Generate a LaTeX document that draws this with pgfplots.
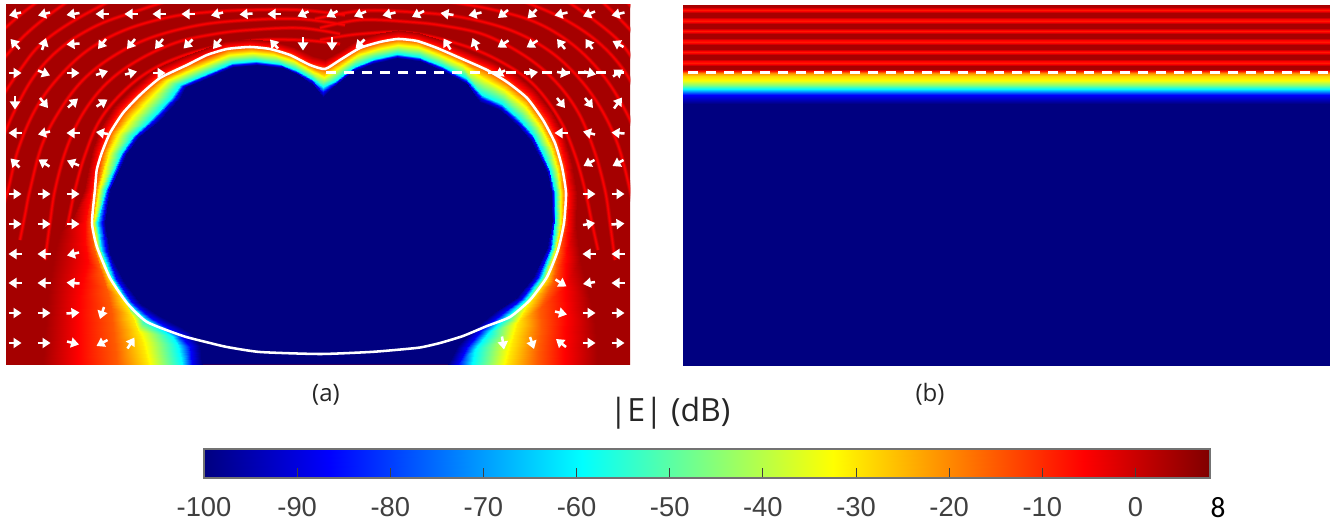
\documentclass[border=0pt]{standalone}
\usepackage{fontspec}
\setmainfont{Liberation Sans}
\newfontfamily\labfont{Open Sans}
\newfontfamily\carl{Carlito}
\usepackage{pgfplots}
\usepackage{pgfplotstable}
\pgfplotsset{compat=1.18}
\usetikzlibrary{arrows.meta}
\pgfplotsset{colormap={myjet}{rgb255(0pt)=(0,0,128); rgb255(1pt)=(0,0,255); rgb255(3pt)=(0,255,255); rgb255(5pt)=(255,255,0); rgb255(7pt)=(255,0,0); rgb255(8pt)=(128,0,0)}}
\definecolor{bgred}{RGB}{165,0,0}
\definecolor{navyb}{RGB}{0,0,128}
\definecolor{rip0}{RGB}{185,0,0}
\definecolor{rip1}{RGB}{205,0,0}
\definecolor{rip2}{RGB}{228,0,0}
\definecolor{rip3}{RGB}{250,0,0}
\pgfplotstableread{
x y
62 250
68 223
75 190
85 155
100 120
125 90
155 68
195 52
250 41
300 40
340 44
nan nan
45 260
50 223
55 190
66 150
82 115
105 85
135 62
175 43
215 34
250 30
300 28
340 34
nan nan
20 240
25 215
30 190
42 145
60 110
83 80
112 57
150 38
200 25
250 20
300 19
345 25
nan nan
0 215
8 190
18 150
35 110
58 78
88 50
125 30
170 17
210 12
250 10
300 10
345 15
nan nan
0 145
15 110
35 75
62 47
98 25
140 10
170 0
nan nan
0 100
20 70
40 45
70 23
112 0
nan nan
0 63
22 38
45 18
70 0
nan nan
0 33
20 15
40 0
nan nan
598 250
592 223
585 190
575 155
560 120
535 86
505 64
465 46
410 33
360 34
320 40
nan nan
615 260
610 223
605 190
594 150
578 112
555 81
525 56
485 35
445 26
410 22
360 20
320 28
nan nan
640 240
635 215
630 190
618 145
600 107
577 76
548 50
510 30
460 17
410 12
360 11
315 19
nan nan
650 190
642 150
625 110
602 74
572 44
535 22
490 9
450 2
nan nan
654 135
645 110
625 72
598 42
562 18
520 0
nan nan
640 70
620 42
590 17
565 0
nan nan
638 38
615 14
600 0
nan nan
640 15
625 0
}\ripples
\pgfplotstableread{
x y u v
15 14 -12 3
44 14 -12 3
73 14 -13 2
102 14 -13 0
131 14 -13 0
159 14 -13 0
188 14 -13 0
217 14 -12 3
246 14 -13 1
274 14 -13 0
303 14 -11 5
332 14 -11 6
360 14 -12 5
389 14 -13 3
418 14 -12 6
447 14 -13 -2
475 14 -13 3
503 14 -10 8
532 14 -9 9
561 14 -13 3
589 14 -12 5
618 14 -13 3
15 44 -9 -10
44 44 4 -12
73 44 -13 1
102 44 -8 10
131 44 -8 10
159 44 -8 10
188 44 -9 9
217 44 -8 10
274 44 -8 -9
303 44 0 13
332 44 0 13
360 44 -9 9
447 44 -7 -11
475 44 -5 -12
503 44 -11 7
532 44 -11 7
561 44 -8 -10
589 44 -7 -10
618 44 -11 -6
15 73 13 0
44 73 12 5
73 73 13 0
102 73 12 -4
131 73 12 -3
159 73 13 0
500 73 -10 5
532 73 12 -2
563 73 12 2
590 73 12 3
618 73 10 -7
15 103 0 13
44 103 8 10
73 103 10 -9
102 103 11 -7
561 103 8 10
589 103 8 10
618 103 8 -11
15 133 -13 0
44 133 -12 3
73 133 -13 0
102 133 -12 -2
561 133 -13 0
589 133 -12 -3
618 133 -13 -1
15 163 -9 -9
44 163 -11 -7
73 163 -12 -5
589 163 -11 6
618 163 -11 6
15 194 13 0
44 194 13 0
73 194 13 0
589 194 13 0
618 194 13 0
15 224 13 0
44 224 13 0
73 224 13 0
589 224 12 -2
618 224 13 -1
15 254 -13 0
44 254 -13 0
73 254 -12 3
589 254 -13 0
618 254 -13 0
15 283 -13 0
44 283 -13 0
73 283 -13 -1
561 283 11 7
589 283 -12 2
618 283 -13 0
15 313 13 0
44 313 13 0
73 313 13 -1
102 313 -4 12
561 313 12 3
589 313 13 0
618 313 13 0
15 343 13 0
44 343 13 0
73 343 12 3
102 343 -11 6
131 343 7 -11
503 343 2 13
532 343 4 12
561 343 -10 -8
589 343 13 0
618 343 13 0
}\arrowsdata
\begin{document}
\begin{tikzpicture}
\useasboundingbox (0,0) rectangle (997.5pt,393pt);
% panel (a)
\begin{axis}[at={(4.5pt,120pt)},anchor=south west,scale only axis,width=468pt,height=269.25pt,
  xmin=6,xmax=630,ymin=5,ymax=364,y dir=reverse,axis lines=none,ticks=none,
  colormap name=myjet,point meta min=-100,point meta max=8,unbounded coords=jump]
\addplot[fill=bgred,draw=none] coordinates {(0,0)(640,0)(640,370)(0,370)(0,0)};
\addplot[rip0,line width=3.4pt,smooth,tension=0.6] table {\ripples};
\addplot[rip1,line width=2.5pt,smooth,tension=0.6] table {\ripples};
\addplot[rip2,line width=1.7pt,smooth,tension=0.6] table {\ripples};
\addplot[rip3,line width=0.9pt,smooth,tension=0.6] table {\ripples};
\addplot[fill=navyb,draw=navyb,line width=1pt] coordinates {
(202,364)(200,345)(190,332)(160,316)(140,303)(123,280)(110,253)(105,223)(110,190)(127,153)(139,137)(160,120)(180,98)(186,87)(203,80)(233,67)(257,65)(283,68)(297,74)(312,84)(323,97)(333,87)(352,72)(372,64)(397,58)(420,61)(443,71)(467,84)(480,102)(500,110)(517,125)(530,140)(538,155)(547,173)(551,193)(552,220)(547,247)(533,277)(517,297)(493,313)(475,328)(458,345)(448,364)(202,364)};
\addplot[surf,shader=interp,mesh/cols=7,point meta=explicit] coordinates {
(202,364)[-100] (192,364)[-87] (182,364)[-60] (147,364)[-30] (117,364)[-15] (80,364)[-6] (43,364)[4]
(200,345)[-100] (190,346)[-87] (178,345)[-60] (141,340)[-30] (114,338)[-15] (80,335)[-6] (45,332)[4]
(190,332)[-100] (180,335)[-87] (172,336)[-60] (138,332)[-30] (113,326)[-15] (80,318)[-6] (47,310)[4]
(160,316)[-100] (150,317)[-87] (145,319)[-60] (132,316)[-30] (111,308)[-15] (81,298)[-6] (49,288)[4]
(140,303)[-100] (132,302)[-87] (127,302)[-60] (123,299)[-30] (107,290)[-15] (84,279)[-6] (52,268)[4]
(123,280)[-100] (116,278)[-87] (112,278)[-60] (108,276)[-30] (101,272)[-15] (88,262)[-6] (56,248)[4]
(110,253)[-100] (106,250)[-87] (101,250)[-60] (97,248)[-30] (93,246)[-15] (85,242)[-6] (60,232)[4]
(105,223)[-100] (102,223)[-87] (97,223)[-60] (93,223)[-30] (91,223)[-15] (85,222)[-6] (72,220)[4]
(110,190)[-100] (108,190)[-87] (105,190)[-60] (98,190)[-30] (95,190)[-15] (91,190)[-6] (84,190)[4]
(127,153)[-100] (124,153)[-87] (121,153)[-60] (108,153)[-30] (102,153)[-15] (98,152)[-6] (92,150)[4]
(139,137)[-100] (135.5,136.5)[-87] (133,136)[-60] (117,134)[-30] (110,133)[-15] (106,131)[-6] (100,128)[4]
(160,120)[-100] (155.5,119)[-87] (152,118.5)[-60] (132,115)[-30] (123,113)[-15] (119,110)[-6] (114,106)[4]
(180,98)[-100] (175,98)[-87] (171,98)[-60] (150,96)[-30] (140,95)[-15] (137,92)[-6] (132,88)[4]
(186,87)[-100] (183,86)[-87] (180,85)[-60] (166,80)[-30] (160,78)[-15] (157,75)[-6] (153,70)[4]
(203,80)[-100] (201,78)[-87] (199,77)[-60] (191,69)[-30] (187,65)[-15] (185,62)[-6] (182,57)[4]
(233,67)[-100] (232,65)[-87] (232,63)[-60] (228.5,54)[-30] (227,49)[-15] (226,46)[-6] (225,41)[4]
(257,65)[-100] (256,63)[-87] (255.5,61)[-60] (252,52)[-30] (250,47)[-15] (250,44)[-6] (250,39)[4]
(283,68)[-100] (281.5,66)[-87] (280,64)[-60] (274,54)[-30] (271,49)[-15] (272,46)[-6] (273,41)[4]
(297,74)[-100] (296,72)[-87] (295.5,70)[-60] (292.5,60)[-30] (291,55)[-15] (292,52)[-6] (294,47)[4]
(312,84)[-100] (312,81)[-87] (311.5,79)[-60] (310.5,70)[-30] (310,65)[-15] (311,62)[-6] (313,56)[4]
(323,97)[-100] (323,92)[-87] (323,87)[-60] (324,76)[-30] (325,69)[-15] (325,65)[-6] (325,59)[4]
(333,87)[-100] (334,84)[-87] (335,81)[-60] (338,67)[-30] (340,60)[-15] (339,57)[-6] (338,52)[4]
(352,72)[-100] (353,69)[-87] (354,67)[-60] (358,54)[-30] (360,48)[-15] (359,45)[-6] (358,39)[4]
(372,64)[-100] (373,61)[-87] (374,59)[-60] (378,48)[-30] (380,42)[-15] (380,39)[-6] (380,33)[4]
(397,58)[-100] (397,56)[-87] (397,54)[-60] (398,44)[-30] (398,39)[-15] (398,36)[-6] (398,30)[4]
(420,61)[-100] (420,59)[-87] (419,57)[-60] (418,46)[-30] (417,41)[-15] (418,38)[-6] (419,33)[4]
(443,71)[-100] (442,68)[-87] (442,66)[-60] (438.5,54)[-30] (437,48)[-15] (439,45)[-6] (441,40)[4]
(467,84)[-100] (466,81)[-87] (465.5,78)[-60] (462,64.5)[-30] (460,58)[-15] (462,55)[-6] (465,50)[4]
(480,102)[-100] (481,98)[-87] (481.5,95)[-60] (485,78)[-30] (487,70)[-15] (490,67)[-6] (494,62)[4]
(500,110)[-100] (501,107)[-87] (501.5,104)[-60] (505,89)[-30] (507,82)[-15] (510,79)[-6] (515,73)[4]
(517,125)[-100] (518,122)[-87] (519,119)[-60] (524.5,105)[-30] (527,98)[-15] (530,95)[-6] (535,90)[4]
(530,140)[-100] (531.5,137.5)[-87] (533,135.5)[-60] (540,125)[-30] (543,120)[-15] (547,117)[-6] (552,112)[4]
(538,155)[-100] (540,153.5)[-87] (542,152)[-60] (551,146)[-30] (555,143)[-15] (559,141)[-6] (565,138)[4]
(547,173)[-100] (549,172)[-87] (550,171.5)[-60] (558,168.5)[-30] (562,167)[-15] (566,166)[-6] (572,164)[4]
(551,193)[-100] (553,193)[-87] (555,193)[-60] (561,193)[-30] (565,193)[-15] (569,193)[-6] (577,193)[4]
(552,220)[-100] (553.5,220.5)[-87] (555,221)[-60] (561,222)[-30] (564,223)[-15] (568,224)[-6] (576,225)[4]
(547,247)[-100] (550,248)[-87] (552,249)[-60] (556,250)[-30] (559,251)[-15] (566,254)[-6] (580,260)[4]
(533,277)[-100] (537,278)[-87] (541,278)[-60] (546,279)[-30] (553,282)[-15] (564,288)[-6] (590,300)[4]
(517,297)[-100] (521,299)[-87] (525,300)[-60] (530,302)[-30] (540,308)[-15] (565,315)[-6] (595,325)[4]
(493,313)[-100] (499,316)[-87] (505,318)[-60] (518,322)[-30] (541,330)[-15] (564,335)[-6] (596,342)[4]
(475,328)[-100] (481,330)[-87] (488,333)[-60] (513,340)[-30] (539,346)[-15] (563,350)[-6] (597,353)[4]
(458,345)[-100] (466,348)[-87] (475,349)[-60] (510,352)[-30] (538,355)[-15] (563,357)[-6] (597,358)[4]
(448,364)[-100] (458,364)[-87] (472,364)[-60] (507,364)[-30] (537,364)[-15] (563,364)[-6] (597,364)[4]
};
\addplot[white,line width=1.9pt,smooth,tension=0.35] coordinates {
(95,190)(96.7,170)(101.7,153)(110,133)(123,113)(140,95)(160,78)(187,65)(207,55)(227,49)(250,47)(270,49)(290,55)(310,65)(325,69)(340,60)(360,48)(380,42)(398,39)(417,41)(437,48)(460,58)(487,70)(507,82)(527,98)(543,120)(555,143)(562,167)(566,193)(564,223)(558,250)(547,277)(530,300)(510,317)(487,326)(463,336)(440,343)(420,347.5)(395,350)(370,352)(320,354)(260,352)(227,347)(210,343)(183,336)(147,322)(127,303)(110,278)(97,247)(92,223)(95,190)};
\addplot[white,line width=1.9pt,dash pattern=on 7.5pt off 6pt] coordinates {(326,72.5)(630,72.5)};
\addplot[white,line width=1.9pt,quiver={u=\thisrow{u},v=\thisrow{v},every arrow/.append style={-{Triangle[length=6pt,width=7.5pt]}}}]
  table[x expr=\thisrow{x}-\thisrow{u}/2,y expr=\thisrow{y}-\thisrow{v}/2] {\arrowsdata};
\end{axis}
% panel (b)
\begin{axis}[at={(512.25pt,119.25pt)},anchor=south west,scale only axis,width=485.25pt,height=270pt,
  xmin=683,xmax=1330,ymin=5,ymax=365,y dir=reverse,axis lines=none,ticks=none,
  colormap name=myjet,point meta min=-100,point meta max=8]
\addplot[surf,shader=interp,mesh/cols=2,point meta=explicit] coordinates {
(683,5)[4] (1330,5)[4]
(683,7)[3] (1330,7)[3]
(683,8.7)[-5] (1330,8.7)[-5]
(683,10)[-8] (1330,10)[-8]
(683,11.3)[-5] (1330,11.3)[-5]
(683,13.2)[4] (1330,13.2)[4]
(683,17.4)[4] (1330,17.4)[4]
(683,19.3)[-5] (1330,19.3)[-5]
(683,20.6)[-8] (1330,20.6)[-8]
(683,21.9)[-5] (1330,21.9)[-5]
(683,23.8)[4] (1330,23.8)[4]
(683,27.8)[4] (1330,27.8)[4]
(683,29.7)[-5] (1330,29.7)[-5]
(683,31)[-8] (1330,31)[-8]
(683,32.3)[-5] (1330,32.3)[-5]
(683,34.2)[4] (1330,34.2)[4]
(683,38.5)[4] (1330,38.5)[4]
(683,40.4)[-5] (1330,40.4)[-5]
(683,41.7)[-8] (1330,41.7)[-8]
(683,43)[-5] (1330,43)[-5]
(683,44.9)[4] (1330,44.9)[4]
(683,48.8)[4] (1330,48.8)[4]
(683,50.7)[-5] (1330,50.7)[-5]
(683,52)[-8] (1330,52)[-8]
(683,53.3)[-5] (1330,53.3)[-5]
(683,55.2)[4] (1330,55.2)[4]
(683,59.5)[4] (1330,59.5)[4]
(683,61.4)[-5] (1330,61.4)[-5]
(683,62.7)[-8] (1330,62.7)[-8]
(683,64)[-5] (1330,64)[-5]
(683,65.9)[4] (1330,65.9)[4]
(683,69)[4] (1330,69)[4]
(683,71)[-8] (1330,71)[-8]
(683,73)[-20] (1330,73)[-20]
(683,76)[-28] (1330,76)[-28]
(683,80)[-32] (1330,80)[-32]
(683,85)[-45] (1330,85)[-45]
(683,89)[-60] (1330,89)[-60]
(683,95)[-87] (1330,95)[-87]
(683,104)[-100] (1330,104)[-100]
(683,365)[-100] (1330,365)[-100]
};
\addplot[white,line width=1.9pt,dash pattern=on 7.5pt off 6pt] coordinates {(688,72.5)(1330,72.5)};
\end{axis}
% colour bar
\begin{axis}[at={(153pt,34.5pt)},anchor=south west,scale only axis,width=754.5pt,height=21.75pt,
  xmin=-100,xmax=8,ymin=0,ymax=1,axis on top,ytick=\empty,
  xtick={-100,-90,-80,-70,-60,-50,-40,-30,-20,-10,0,8},
  xticklabels={-100,-90,-80,-70,-60,-50,-40,-30,-20,-10,0,{\hspace*{12pt}\raisebox{4.5pt}{\fontsize{22}{24}\selectfont\carl\color{black}8}}},
  tick pos=bottom,tick align=inside,major tick length=7.5pt,
  tick style={black!75,line width=0.7pt},axis line style={black!55,line width=0.9pt},
  xticklabel style={font=\fontsize{20.5}{22}\selectfont,text=black!75,yshift=-11pt},
  colormap name=myjet,point meta min=-100,point meta max=8]
\addplot[surf,shader=interp,mesh/cols=2,point meta=explicit] coordinates {
(-100,0)[-100] (-100,1)[-100]
(-90,0)[-90] (-90,1)[-90]
(-80,0)[-80] (-80,1)[-80]
(-70,0)[-70] (-70,1)[-70]
(-60,0)[-60] (-60,1)[-60]
(-50,0)[-50] (-50,1)[-50]
(-40,0)[-40] (-40,1)[-40]
(-30,0)[-30] (-30,1)[-30]
(-20,0)[-20] (-20,1)[-20]
(-10,0)[-10] (-10,1)[-10]
(0,0)[0] (0,1)[0]
(8,0)[8] (8,1)[8]
};
\end{axis}
\node[font=\labfont\fontsize{18}{20}\selectfont,text=black!85] at (244.5pt,97pt) {(a)};
\node[font=\labfont\fontsize{18}{20}\selectfont,text=black!85] at (697.5pt,97pt) {(b)};
\node[font=\labfont\fontsize{24}{28}\selectfont,text=black!85] at (502.5pt,83pt) {|E| (dB)};
\end{tikzpicture}
\end{document}
